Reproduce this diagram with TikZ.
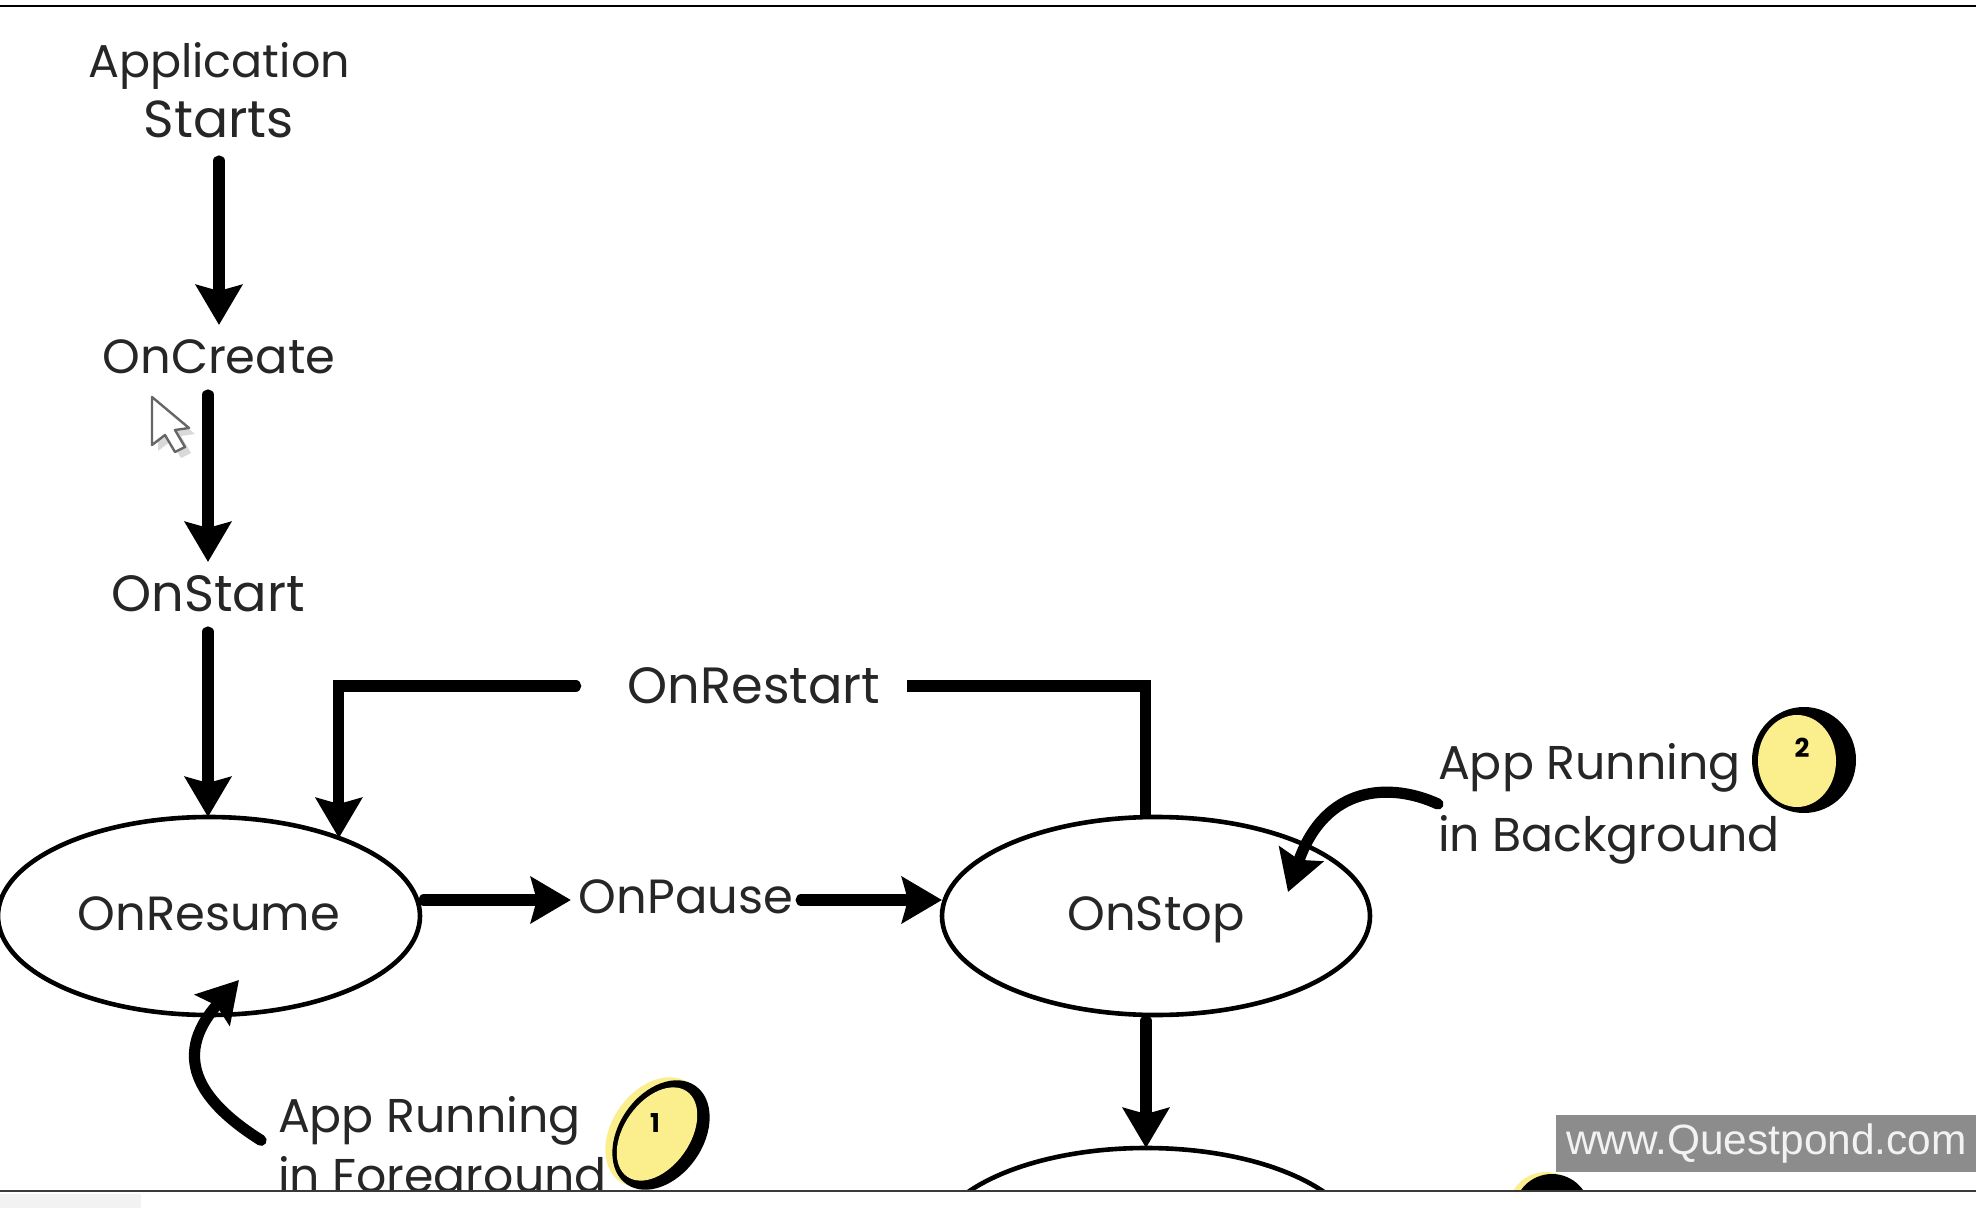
\documentclass[tikz,border=0pt]{standalone}
\usepackage{fontspec}
\setmainfont{Poppins}
\newfontfamily\markfont{Liberation Sans}
\usetikzlibrary{shapes.geometric,arrows.meta}
\definecolor{badgeyellow}{HTML}{FBEE8C}
\definecolor{markgray}{HTML}{8C8C8C}
\definecolor{rulegray}{HTML}{3A3A3A}
\tikzset{
  x=0.5pt,y=-0.5pt,
  lbl/.style={inner sep=0pt,outer sep=0pt,minimum height=32pt,text=black!85,
    font=\fontsize{24}{30}\selectfont,align=center},
  biglbl/.style={lbl,font=\fontsize{25.5}{30}\selectfont},
  state/.style={ellipse,draw=black,line width=2.3pt,fill=white,inner sep=0pt,outer sep=0pt,
    minimum width=211pt,minimum height=99pt},
  conn/.style={line width=5.6pt,line cap=round,line join=miter,draw=black},
  arr/.style={conn,-{Stealth[width=23pt,length=20pt,inset=3pt]}},
  badgeblack/.style={ellipse,fill=black,inner sep=0pt},
  badgefill/.style={ellipse,fill=badgeyellow,inner sep=0pt},
  badgenum/.style={inner sep=0pt,font=\fontsize{13}{13}\selectfont\bfseries,text=black}
}
\begin{document}
\begin{tikzpicture}
\useasboundingbox (0,0) rectangle (1976,1208);
\fill[white] (0,0) rectangle (1976,1208);
\begin{scope}
\clip (0,0) rectangle (1976,1191);
% nodes
\node[lbl,minimum height=65pt] (appstart) at (219,90) {{\fontsize{23}{30}\selectfont Application}\\{\fontsize{26}{30}\selectfont Starts}};
\node[lbl] (oncreate) at (219,357) {OnCreate};
\node[biglbl] (onstart) at (208,594) {OnStart};
\node[biglbl] (onrestart) at (754,686) {OnRestart};
\node[state] (onresume) at (209,916) {};
\node[lbl] at (209,914) (onresumelabel) {OnResume};
\node[lbl,inner xsep=4pt,text depth=3pt] (onpause) at (686,900) {OnPause};
\node[state,minimum width=214pt] (onstop) at (1156,916) {};
\node[lbl] at (1156,920) (onstoplabel) {OnStop};
\node[state,minimum width=214pt] (bottomstate) at (1146,1247) {};
\node[lbl,anchor=west,align=left,font=\fontsize{23.7}{36}\selectfont] (bgtext) at (1438,804) {App Running\\in Background};
\node[lbl,anchor=west,align=left,font=\fontsize{23.7}{30}\selectfont] (fgtext) at (278,1151) {App Running\\in Foreground};
\coordinate (fgtip) at (239,980);
\coordinate (bgtip) at (1288,892);
% connectors
\draw[arr,shorten <=3pt] (appstart.south) -- (oncreate.north);
\draw[arr] (oncreate.south -| onstart.north) ++(0,6) -- (onstart.north);
\draw[arr] (onstart.south) ++(0,6) -- (onresume.north -| onstart.north);
\draw[arr,shorten <=26pt] (onrestart.west) -| (onresume.31);
\draw[conn,line cap=butt,shorten <=13.5pt] (onrestart.east) -| (onstop.96);
\draw[arr,shorten <=2pt] (onresume.east |- onpause.west) -- (onpause.west);
\draw[arr] (onpause.east) -- (onstop.west |- onpause.east);
\draw[arr,shorten <=3pt] (onstop.south -| bottomstate.north) -- (bottomstate.north);
\draw[arr,shorten <=10pt] (fgtext.west) .. controls (205,1105) and (168,1060) .. (fgtip);
\draw[arr] (bgtext.west) .. controls (1390,782) and (1325,785) .. (bgtip);
% badges
\node[badgefill,rotate=55,minimum width=60pt,minimum height=42pt] (b1halo) at (654,1132) {};
\node[badgeblack,rotate=55,minimum width=60pt,minimum height=42pt] (b1black) at (661,1135) {};
\node[badgefill,rotate=55,minimum width=52pt,minimum height=33pt] (b1fill) at (657,1134) {};
\node[badgenum] (b1num) at (655,1123) {1};
\node[badgeblack,minimum width=52pt,minimum height=53pt] (b2black) at (1804,760) {};
\node[badgefill,minimum width=39pt,minimum height=46pt] (b2fill) at (1797,761) {};
\node[badgenum] (b2num) at (1802,748) {2};
\node[badgefill,minimum width=38pt,minimum height=38pt] (b3halo) at (1546,1210) {};
\node[badgeblack,minimum width=38pt,minimum height=38pt] (b3black) at (1552,1212) {};
\end{scope}
% cursor
\fill[black!15] (158,403) -- (158,451) -- (171,441) -- (181,458) -- (191,453) -- (181,436) -- (195,434) -- cycle;
\draw[draw=black!60,fill=white,line width=1.2pt,line join=round] (152,397) -- (152,445) -- (165,435) -- (175,452) -- (185,447) -- (175,430) -- (189,428) -- cycle;
% frame rules
\draw[black,line width=0.8pt] (0,6) -- (1976,6);
\draw[rulegray,line width=1.2pt] (0,1191) -- (1976,1191);
\fill[black!5] (0,1194) rectangle (141,1208);
% watermark
\node[fill=markgray,minimum width=210pt,minimum height=28.5pt,inner sep=0pt,anchor=north west,text=white!95!black,
  font=\markfont\fontsize{21.2}{21.2}\selectfont] (watermark) at (1556,1115) {www.Questpond.com};
\end{tikzpicture}
\end{document}
